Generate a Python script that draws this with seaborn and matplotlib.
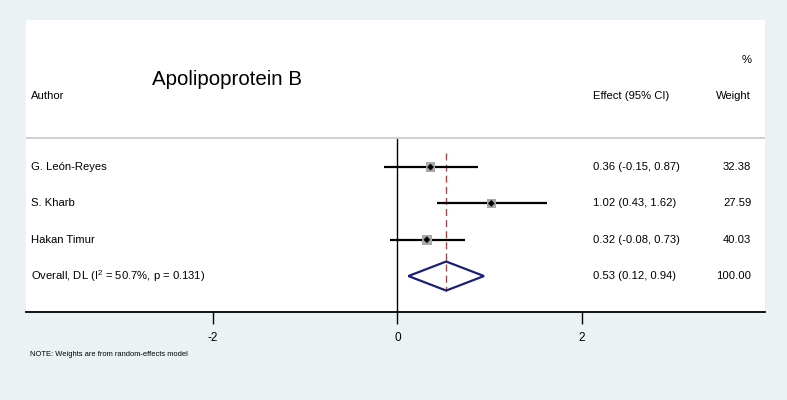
import matplotlib.pyplot as plt
import seaborn as sns
import pandas as pd
from matplotlib.patches import Polygon

# study data
authors = ['G. León-Reyes', 'S. Kharb', 'Hakan Timur']
effects = [0.36, 1.02, 0.32]
ci_low = [-0.15, 0.43, -0.08]
ci_high = [0.87, 1.62, 0.73]
weights = [32.38, 27.59, 40.03]

# pooled estimate
overall_label = 'Overall, DL ($\\mathregular{I^2}$ = 50.7%, p = 0.131)'
overall_effect = 0.53
overall_low = 0.12
overall_high = 0.94
overall_weight = 100.00

x_ticks = [-2, 0, 2]
title = 'Apolipoprotein B'
note = 'NOTE: Weights are from random-effects model'

BG = '#eaf2f3'


def main() -> None:
    sns.set_theme(style='white')
    plt.rcParams['font.family'] = ['Liberation Sans', 'DejaVu Sans']
    plt.rcParams['text.color'] = 'black'
    plt.rcParams['xtick.color'] = 'black'
    plt.rcParams['xtick.labelcolor'] = 'black'

    df = pd.DataFrame({'author': authors, 'effect': effects, 'lo': ci_low,
                       'hi': ci_high, 'weight': weights})
    df['row'] = range(len(df))
    n = len(df)

    fig = plt.figure(figsize=(7.87, 4.0), dpi=100, facecolor=BG)
    ax = fig.add_axes([26 / 787, 1 - 312 / 400, (765 - 26) / 787, (312 - 20) / 400])
    ax.set_facecolor('white')
    ax.set_xlim(-4.03, 3.99)
    ax.set_ylim(3.99, -4.05)

    # confidence intervals
    ax.hlines(df['row'], df['lo'], df['hi'], color='black', lw=1.6, zorder=2)
    # weight squares
    sns.scatterplot(data=df, x='effect', y='row', size='weight', sizes=(36, 56),
                    size_norm=(27, 41), marker='s', color='#a8a8a8', edgecolor='none',
                    legend=False, ax=ax, zorder=3)
    # point estimates
    sns.scatterplot(data=df, x='effect', y='row', marker='D', s=12, color='black',
                    edgecolor='none', legend=False, ax=ax, zorder=4)

    # overall diamond
    dh = 0.4
    diamond = Polygon([[overall_low, n], [overall_effect, n - dh],
                       [overall_high, n], [overall_effect, n + dh]],
                      closed=True, fill=False, edgecolor='#1c1f7a', lw=1.6, zorder=4)
    ax.add_patch(diamond)

    # null line and overall line
    ax.vlines(0, -0.8, 3.99, color='black', lw=1.0, zorder=1)
    ax.vlines(overall_effect, -0.39, n + 0.4, color='#a04a4a', lw=1.0,
              linestyles=(0, (5, 3)), zorder=1)

    # header separator
    ax.axhline(-0.8, color='#c8c8c8', lw=1.2, zorder=1)

    fs = 8.1
    tx = ax.get_yaxis_transform()
    col_eff = 195 / 92
    col_wt = 3.84
    for i, r in df.iterrows():
        ax.text(0.0066, r['row'], r['author'], transform=tx, va='center', fontsize=fs)
        ax.text(col_eff, r['row'], f"{r['effect']:.2f} ({r['lo']:.2f}, {r['hi']:.2f})",
                va='center', fontsize=fs)
        ax.text(col_wt, r['row'], f"{r['weight']:.2f}", va='center', ha='right', fontsize=fs)
    ax.text(0.0066, n, overall_label, transform=tx, va='center', fontsize=fs)
    ax.text(col_eff, n, f"{overall_effect:.2f} ({overall_low:.2f}, {overall_high:.2f})",
            va='center', fontsize=fs)
    ax.text(col_wt, n, f"{overall_weight:.2f}", va='center', ha='right', fontsize=fs)

    # headers
    ax.text(0.0066, -1.96, 'Author', transform=tx, va='center', fontsize=fs)
    ax.text(col_eff, -1.96, 'Effect (95% CI)', va='center', fontsize=fs)
    ax.text(col_wt, -1.96, 'Weight', va='center', ha='right', fontsize=fs)
    ax.text(col_wt, -2.95, '%', va='center', ha='right', fontsize=fs)
    ax.text(0.171, -2.4, title, transform=tx, va='center', fontsize=14.8)

    # axes styling
    for side in ['top', 'left', 'right']:
        ax.spines[side].set_visible(False)
    ax.spines['bottom'].set_color('black')
    ax.spines['bottom'].set_linewidth(1.3)
    ax.set_xticks(x_ticks)
    ax.set_xticklabels([str(t) for t in x_ticks])
    ax.tick_params(axis='x', bottom=True, direction='out', length=8.5, width=1.0,
                   color='black', pad=6, labelsize=fs + 0.4)
    ax.set_yticks([])
    ax.set_xlabel('')
    ax.set_ylabel('')

    fig.text(30 / 787, 1 - 355 / 400, note, fontsize=5.4, va='center')

    fig.savefig('out.png', dpi=100, facecolor=BG)


if __name__ == '__main__':
    main()
